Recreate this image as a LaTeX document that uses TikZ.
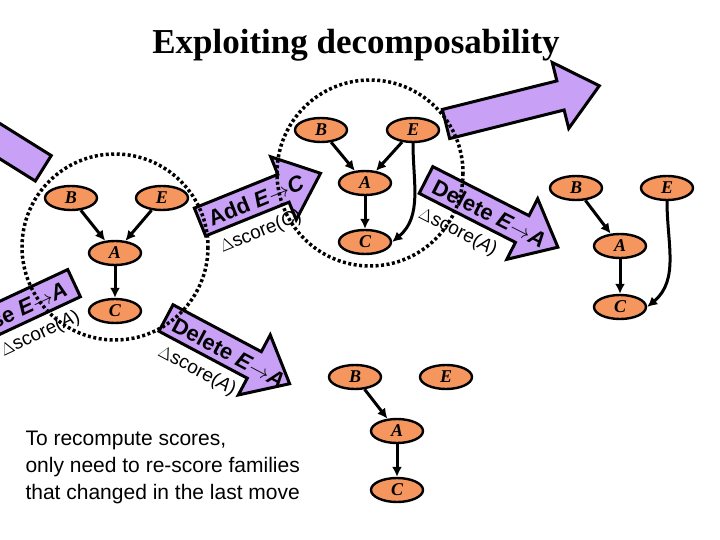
\documentclass[tikz,border=0pt]{standalone}
\usepackage{fontspec}
\setmainfont{Liberation Serif}
\setsansfont{Liberation Sans}
\usetikzlibrary{arrows.meta,shapes.geometric}
\definecolor{nodeorange}{RGB}{245,150,95}
\definecolor{movepurple}{RGB}{200,160,245}
\tikzset{
  var/.style={ellipse, draw, line width=2.4pt, fill=nodeorange, minimum width=52pt, minimum height=24pt, inner sep=0pt,
    font=\fontsize{18}{18}\selectfont\bfseries\itshape},
  edge/.style={line width=3pt, -{Latex[length=10pt,width=10pt]}},
  family/.style={line width=3.5pt, dash pattern=on 3pt off 2.5pt},
  movebox/.style={draw, line width=3pt, fill=movepurple, line join=miter},
  movetext/.style={font=\sffamily\fontsize{22}{22}\selectfont\bfseries},
  scoretext/.style={font=\sffamily\fontsize{19}{19}\selectfont}
}
% fat arrow: start, angle, length, label, score
\newcommand{\fatmove}[5]{%
  \begin{scope}[shift={#1}, rotate=#2]
    \draw[movebox] (0,-15) -- (#3-40,-15) -- (#3-40,-34) -- (#3,0) -- (#3-40,34) -- (#3-40,15) -- (0,15) -- cycle;
    \node[movetext, transform shape, anchor=west] at (6,1) {#4};
    \node[scoretext, transform shape, anchor=west] at (6,32) {#5};
  \end{scope}}
\newcommand{\fatbar}[5]{%
  \begin{scope}[shift={#1}, rotate=#2]
    \draw[movebox] (0,-15) rectangle (#3,15);
    \node[movetext, transform shape, anchor=east] at (#3-6,1) {#4};
    \node[scoretext, transform shape, anchor=east] at (#3-6,32) {#5};
  \end{scope}}
\begin{document}
\begin{tikzpicture}[x=1pt, y=-1pt]
\useasboundingbox (0,0) rectangle (720,540);
\clip (0,0) rectangle (720,540);

\node[font=\fontsize{35}{35}\selectfont\bfseries] (title) at (356,45) {Exploiting decomposability};

% moves
\fatbar{(-50,110)}{-32}{110}{}{}
\fatmove{(200,222)}{22}{130}{Add \textit{E}$\rightarrow$\textit{C}}{$\Delta$score(\textit{C})}
\fatmove{(446,124)}{14}{158}{}{}
\fatmove{(166,318)}{-28}{140}{Delete \textit{E}$\rightarrow$\textit{A}}{$\Delta$score(\textit{A})}
\fatmove{(426,180)}{-27}{148}{Delete \textit{E}$\rightarrow$\textit{A}}{$\Delta$score(\textit{A})}
\fatbar{(-80,355)}{25}{170}{Reverse \textit{E}$\rightarrow$\textit{A}}{$\Delta$score(\textit{A})}

% families
\draw[family] (115,247) circle (93);
\draw[family] (370,173) circle (93);

% first network
\node[var] (b1) at (71,198) {B};
\node[var] (e1) at (162,198) {E};
\node[var] (a1) at (115,253) {A};
\node[var] (c1) at (115,311) {C};
\draw[edge] (b1) -- (a1);
\draw[edge] (e1) -- (a1);
\draw[edge] (a1) -- (c1);

% after add
\node[var] (b2) at (321,130) {B};
\node[var] (e2) at (413,130) {E};
\node[var] (a2) at (365,183) {A};
\node[var] (c2) at (365,242) {C};
\draw[edge] (b2) -- (a2);
\draw[edge] (e2) -- (a2);
\draw[edge] (a2) -- (c2);
\draw[edge] (e2.south) to[out=-90, in=40] (c2.east);

% after two moves
\node[var] (b3) at (576,188) {B};
\node[var] (e3) at (667,188) {E};
\node[var] (a3) at (620,246) {A};
\node[var] (c3) at (620,307) {C};
\draw[edge] (b3) -- (a3);
\draw[edge] (a3) -- (c3);
\draw[edge] (e3.south) to[out=-90, in=40] (c3.east);

% after delete
\node[var] (b4) at (355,377) {B};
\node[var] (e4) at (446,377) {E};
\node[var] (a4) at (397,431) {A};
\node[var] (c4) at (397,490) {C};
\draw[edge] (b4) -- (a4);
\draw[edge] (a4) -- (c4);

\node[font=\sffamily\fontsize{21}{27}\selectfont, align=left, anchor=north west] (note) at (22,428)
  {To recompute scores,\\only need to re-score families\\that changed in the last move};
\end{tikzpicture}
\end{document}
